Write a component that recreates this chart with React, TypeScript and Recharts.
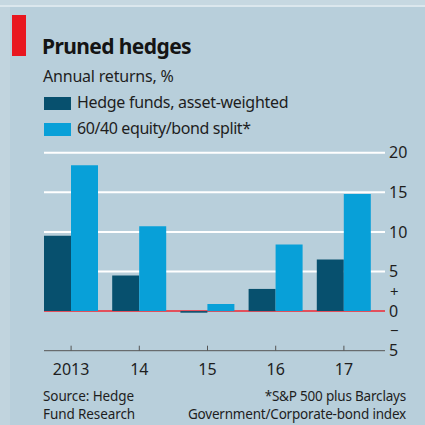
import React from 'react';
import { BarChart, Bar, XAxis, YAxis, CartesianGrid } from 'recharts';

const years = ['2013', '14', '15', '16', '17'];
const hedgeFunds = [9.5, 4.5, -0.2, 2.8, 6.5];
const equityBond = [18.4, 10.7, 0.9, 8.4, 14.8];
const yTicks = [-5, -2.5, 0, 2.5, 5, 10, 15, 20];
const gridValues = [5, 10, 15, 20];

const data = years.map((year, i) => ({ year, hedge: hedgeFunds[i], split: equityBond[i] }));

const DARK = '#07506e';
const LIGHT = '#08a0d8';
const FONT = '"Noto Sans", sans-serif';
const INK = '#1e1e1e';

const YearTick = (props: any) => {
  const { x, y, payload } = props;
  return (
    <g>
      <line x1={x} x2={x} y1={y - 5} y2={y} stroke="#555" strokeWidth={1} />
      <text x={x} y={y + 24} textAnchor="middle" fontSize={16} fill={INK} fontFamily={FONT}>
        {payload.value}
      </text>
    </g>
  );
};

// signs between 5/0 and 0/-5, the rest as plain numbers
const ValueTick = (props: any) => {
  const { x, y, payload } = props;
  const v = payload.value;
  const sign = v === 2.5 || v === -2.5;
  const label = v === 2.5 ? '+' : v === -2.5 ? '\u2212' : String(Math.abs(v));
  return (
    <text
      x={sign ? x + 1 : x}
      y={y}
      dy="0.36em"
      textAnchor="start"
      fontSize={sign ? 15 : 16}
      fill={INK}
      fontFamily={FONT}
    >
      {label}
    </text>
  );
};

const Swatch = ({ top, color }: { top: number; color: string }) => (
  <div style={{ position: 'absolute', left: 44, top, width: 27, height: 13, background: color }} />
);

const text = (style: React.CSSProperties) => ({
  position: 'absolute' as const,
  fontFamily: FONT,
  color: INK,
  whiteSpace: 'nowrap' as const,
  lineHeight: 1,
  ...style,
});

export default function App() {
  return (
    <div style={{ position: 'fixed', left: 0, top: 0, width: 425, height: 425, background: '#b8cfdb', overflow: 'hidden' }}>
      <div style={{ position: 'absolute', left: 0, top: 0, width: 425, height: 5, background: '#c6d8e1' }} />
      <div style={{ position: 'absolute', left: 0, top: 5, width: 425, height: 2, background: '#dbe7ed' }} />
      <div style={{ position: 'absolute', left: 0, top: 7, width: 10, height: 418, background: '#c1d4de' }} />
      <div style={{ position: 'absolute', left: 12, top: 15, width: 14, height: 41, background: '#e8161f' }} />

      <div style={text({ left: 42, top: 36, fontSize: 21, fontWeight: 700, letterSpacing: -0.6, color: '#141414' })}>
        Pruned hedges
      </div>
      <div style={text({ left: 43, top: 68, fontSize: 16, letterSpacing: -0.2 })}>Annual returns, %</div>
      <Swatch top={97} color={DARK} />
      <div style={text({ left: 77, top: 94, fontSize: 16, letterSpacing: -0.3 })}>Hedge funds, asset-weighted</div>
      <Swatch top={123} color={LIGHT} />
      <div style={text({ left: 77, top: 120, fontSize: 16, letterSpacing: -0.4 })}>60/40 equity/bond split*</div>

      <div style={text({ left: 43, top: 390, fontSize: 13.5, letterSpacing: -0.1 })}>Source: Hedge</div>
      <div style={text({ left: 43, top: 408, fontSize: 13.5, letterSpacing: -0.1 })}>Fund Research</div>
      <div style={text({ right: 19, top: 390, fontSize: 13.5, letterSpacing: -0.2 })}>*S&amp;P 500 plus Barclays</div>
      <div style={text({ right: 19, top: 408, fontSize: 13.5, letterSpacing: -0.2 })}>Government/Corporate-bond index</div>

      <div style={{ position: 'absolute', left: 0, top: 0 }}>
        <BarChart
          width={425}
          height={425}
          data={data}
          margin={{ top: 152.7, right: 0, bottom: 44.3, left: 37 }}
          barCategoryGap={7}
          barGap={0}
        >
          <CartesianGrid x={44} width={341} vertical={false} horizontalValues={gridValues} stroke="#ffffff" strokeWidth={2} />
          <CartesianGrid x={44} width={341} vertical={false} horizontalValues={[-5]} stroke="#555" strokeWidth={1} />
          <XAxis
            dataKey="year"
            axisLine={false}
            tickLine={false}
            tickSize={0}
            tickMargin={0}
            height={30}
            padding={{ left: 0, right: 7 }}
            tick={<YearTick />}
            interval={0}
          />
          <YAxis
            orientation="right"
            domain={[-5, 20]}
            ticks={yTicks}
            interval={0}
            width={40}
            axisLine={false}
            tickLine={false}
            tickSize={0}
            tickMargin={4}
            tick={<ValueTick />}
          />
          <Bar dataKey="hedge" fill={DARK} isAnimationActive={false} />
          <Bar dataKey="split" fill={LIGHT} isAnimationActive={false} />
          <CartesianGrid x={44} width={341} vertical={false} horizontalValues={[0]} stroke="#e2505c" strokeWidth={2} />
        </BarChart>
      </div>
    </div>
  );
}
